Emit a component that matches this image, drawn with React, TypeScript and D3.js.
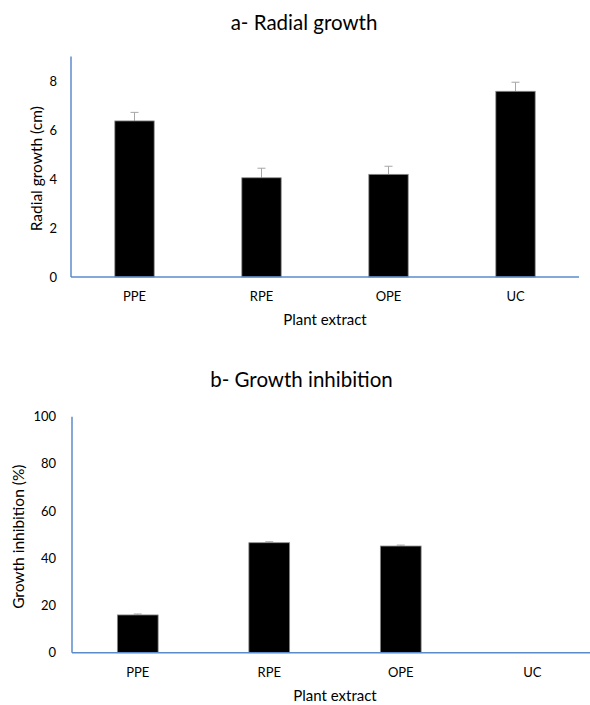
import React from "react";
import * as d3 from "d3";

const categories = ["PPE", "RPE", "OPE", "UC"];
const radialGrowth = [6.37, 4.05, 4.19, 7.58];
const radialGrowthErr = [0.35, 0.39, 0.33, 0.37];
const inhibition = [16.0, 46.6, 45.2, 0];
const inhibitionErr = [0.4, 0.4, 0.4, 0];
const radialTicks = [0, 2, 4, 6, 8];
const inhibitionTicks = [0, 20, 40, 60, 80, 100];

const FONT = "Lato, 'Open Sans', sans-serif";
const AXIS = "#5b8bcb";

type PanelProps = {
  title: string;
  yLabel: string;
  values: number[];
  errors: number[];
  ticks: number[];
  yMax: number;
  x0: number;
  x1: number;
  yBase: number;
  yTop: number;
  titleY: number;
  titleX: number;
  yLabelX: number;
  tickRight: number;
};

function Panel(p: PanelProps) {
  const x = d3.scaleBand<string>().domain(categories).range([p.x0, p.x1]).padding(0);
  const y = d3.scaleLinear().domain([0, p.yMax]).range([p.yBase, p.yTop]);
  const bw = x.bandwidth() * 0.31;
  const mid = (p.x0 + p.x1) / 2;

  return (
    <g>
      <text x={p.titleX} y={p.titleY} textAnchor="middle" fontSize={20.5} fontFamily={FONT} fill="#000">
        {p.title}
      </text>
      {categories.map((c, i) => {
        const cx = (x(c) as number) + x.bandwidth() / 2;
        if (p.values[i] <= 0) return null;
        return (
          <g key={c}>
            <line x1={cx} x2={cx} y1={y(p.values[i])} y2={y(p.values[i] + p.errors[i])} stroke="#a6a6a6" strokeWidth={1} />
            <line x1={cx - 4} x2={cx + 4} y1={y(p.values[i] + p.errors[i])} y2={y(p.values[i] + p.errors[i])} stroke="#a6a6a6" strokeWidth={1} />
            <rect x={cx - bw / 2} y={y(p.values[i])} width={bw} height={p.yBase - y(p.values[i])} fill="#000" stroke="#8c8c8c" strokeWidth={0.8} />
          </g>
        );
      })}
      <line x1={p.x0} x2={p.x0} y1={p.yBase} y2={p.yTop} stroke={AXIS} strokeWidth={1.5} />
      <line x1={p.x0} x2={p.x1} y1={p.yBase} y2={p.yBase} stroke={AXIS} strokeWidth={1.5} />
      {p.ticks.map((t) => (
        <text key={t} x={p.tickRight} y={y(t)} dy="0.35em" textAnchor="end" fontSize={13} fontFamily={FONT} fill="#000">
          {t}
        </text>
      ))}
      {categories.map((c) => (
        <text key={c} x={(x(c) as number) + x.bandwidth() / 2} y={p.yBase + 24} textAnchor="middle" fontSize={13} fontFamily={FONT} fill="#000">
          {c}
        </text>
      ))}
      <text x={mid} y={p.yBase + 48} textAnchor="middle" fontSize={15} fontFamily={FONT} fill="#000">
        Plant extract
      </text>
      <text
        transform={`translate(${p.yLabelX},${(p.yBase + p.yTop) / 2 + 2}) rotate(-90)`}
        textAnchor="middle"
        dy="0.35em"
        fontSize={15.5}
        fontFamily={FONT}
        fill="#000"
      >
        {p.yLabel}
      </text>
    </g>
  );
}

export default function App() {
  return (
    <svg width={590} height={705} style={{ position: "absolute", left: 0, top: 0, background: "#fff" }}>
      <rect width={590} height={705} fill="#fff" />
      <Panel
        title="a- Radial growth"
        yLabel="Radial growth (cm)"
        values={radialGrowth}
        errors={radialGrowthErr}
        ticks={radialTicks}
        yMax={9}
        x0={71}
        x1={579}
        yBase={277}
        yTop={56.5}
        titleY={30}
        titleX={304}
        yLabelX={37}
        tickRight={57}
      />
      <Panel
        title="b- Growth inhibition"
        yLabel="Growth inhibition (%)"
        values={inhibition}
        errors={inhibitionErr}
        ticks={inhibitionTicks}
        yMax={100}
        x0={72}
        x1={598}
        yBase={652.7}
        yTop={416.7}
        titleY={387}
        titleX={301.5}
        yLabelX={18.5}
        tickRight={56}
      />
    </svg>
  );
}
